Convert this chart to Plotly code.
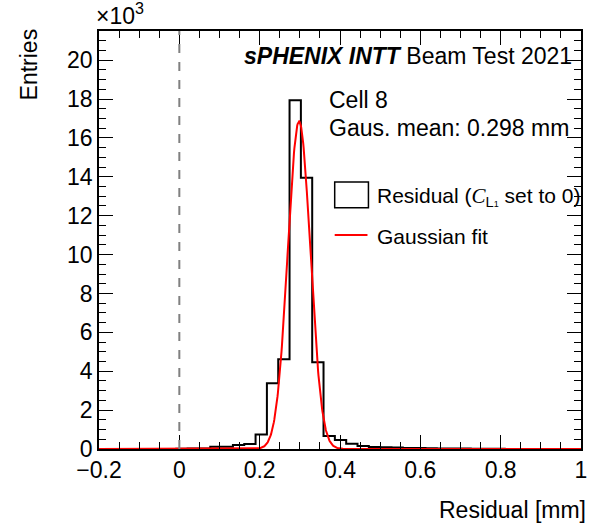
import numpy as np
import plotly.graph_objects as go

# ---- data (counts in units of 10^3) ----
bin_start = -0.205
bin_width = 0.0282
counts_k = [0.0, 0.0, 0.0, 0.0, 0.0, 0.0, 0.0, 0.01, 0.02, 0.03,
            0.12, 0.12, 0.20, 0.26, 0.75, 3.38, 4.61, 17.94, 13.95, 4.46,
            0.67, 0.46, 0.27, 0.15, 0.10, 0.09, 0.08, 0.05, 0.05, 0.04,
            0.03, 0.02, 0.02, 0.01, 0.01, 0.01, 0.0, 0.0, 0.0, 0.0,
            0.0, 0.0, 0.0]
fit_amp_k = 16.85
fit_mean = 0.298
fit_sigma = 0.028

x_ticks = [-0.2, 0, 0.2, 0.4, 0.6, 0.8, 1.0]
x_ticktext = ["\u22120.2", "0", "0.2", "0.4", "0.6", "0.8", "1"]
y_ticks = [0, 2, 4, 6, 8, 10, 12, 14, 16, 18, 20]

edges = [bin_start + i * bin_width for i in range(len(counts_k) + 1)]
step_x = edges
step_y = counts_k + [counts_k[-1]]

xf = np.linspace(-0.2, 1.0, 1200)
yf = fit_amp_k * np.exp(-0.5 * ((xf - fit_mean) / fit_sigma) ** 2)

FONT = "Liberation Sans, Arial, Helvetica, sans-serif"
TS = 23

fig = go.Figure()
fig.add_trace(go.Scatter(x=step_x, y=step_y, mode="lines",
                         line=dict(shape="hv", color="black", width=2),
                         showlegend=False, hoverinfo="skip"))
fig.add_trace(go.Scatter(x=xf, y=yf, mode="lines",
                         line=dict(color="red", width=2),
                         showlegend=False, hoverinfo="skip"))

# dashed line at 0
fig.add_shape(type="line", x0=0, x1=0, y0=0, y1=1, xref="x", yref="paper",
              line=dict(color="#808080", width=2, dash="dash"))

# legend (manual)
fig.add_shape(type="rect", xref="paper", yref="paper",
              x0=0.489, x1=0.559, y0=0.577, y1=0.639,
              line=dict(color="black", width=1.5), fillcolor="white")
fig.add_shape(type="line", xref="paper", yref="paper",
              x0=0.489, x1=0.557, y0=0.512, y1=0.512,
              line=dict(color="red", width=2))

ann = []
ann.append(dict(text="Residual (<span style='font-family:Liberation Serif'><i>C</i></span><sub>L<span style='font-size:9px'>1</span></sub> set to 0)",
                x=0.573, y=0.603, xref="paper", yref="paper",
                xanchor="left", yanchor="middle", showarrow=False,
                font=dict(size=21, family=FONT, color="black")))
ann.append(dict(text="Gaussian fit", x=0.573, y=0.508, xref="paper", yref="paper",
                xanchor="left", yanchor="middle", showarrow=False,
                font=dict(size=21, family=FONT, color="black")))
ann.append(dict(text="<b><i>sPHENIX INTT</i></b> Beam Test 2021",
                x=0.985, y=0.940, xref="paper", yref="paper",
                xanchor="right", yanchor="middle", showarrow=False,
                font=dict(size=23, family=FONT, color="black")))
ann.append(dict(text="Cell 8", x=0.474, y=0.835, xref="paper", yref="paper",
                xanchor="left", yanchor="middle", showarrow=False,
                font=dict(size=TS, family=FONT, color="black")))
ann.append(dict(text="Gaus. mean: 0.298 mm", x=0.474, y=0.768, xref="paper", yref="paper",
                xanchor="left", yanchor="middle", showarrow=False,
                font=dict(size=TS, family=FONT, color="black")))
ann.append(dict(text="Residual [mm]", x=1.015, y=-0.146, xref="paper", yref="paper",
                xanchor="right", yanchor="middle", showarrow=False,
                font=dict(size=TS, family=FONT, color="black")))
ann.append(dict(text="Entries", x=-0.146, y=1.01, xref="paper", yref="paper",
                xanchor="center", yanchor="top", textangle=-90, showarrow=False,
                font=dict(size=TS, family=FONT, color="black")))
ann.append(dict(text="×10<sup>3</sup>", x=-0.01, y=1.0, xref="paper", yref="paper",
                xanchor="left", yanchor="bottom", showarrow=False,
                font=dict(size=TS, family=FONT, color="black")))

fig.update_layout(
    width=598, height=527,
    margin=dict(l=99, r=11, t=31, b=78),
    paper_bgcolor="white", plot_bgcolor="white",
    annotations=ann,
    font=dict(family=FONT, size=TS, color="black"),
)
fig.update_xaxes(range=[-0.2, 1.0], tickvals=x_ticks, ticktext=x_ticktext,
                 ticks="inside", ticklen=14, tickwidth=1, tickcolor="black",
                 minor=dict(dtick=0.05, tick0=0, ticks="inside", ticklen=7, tickcolor="black"),
                 showline=True, linecolor="black", linewidth=1.5, mirror="allticks",
                 showgrid=False, zeroline=False,
                 tickfont=dict(size=TS, family=FONT))
fig.update_yaxes(range=[0, 21.5], tickvals=y_ticks,
                 ticks="inside", ticklen=14, tickwidth=1, tickcolor="black",
                 minor=dict(dtick=0.5, tick0=0, ticks="inside", ticklen=7, tickcolor="black"),
                 showline=True, linecolor="black", linewidth=1.5, mirror="allticks",
                 showgrid=False, zeroline=False,
                 tickfont=dict(size=TS, family=FONT))

fig.write_html("out.html", config={"displayModeBar": False},
               post_script="document.body.style.margin='0';")
